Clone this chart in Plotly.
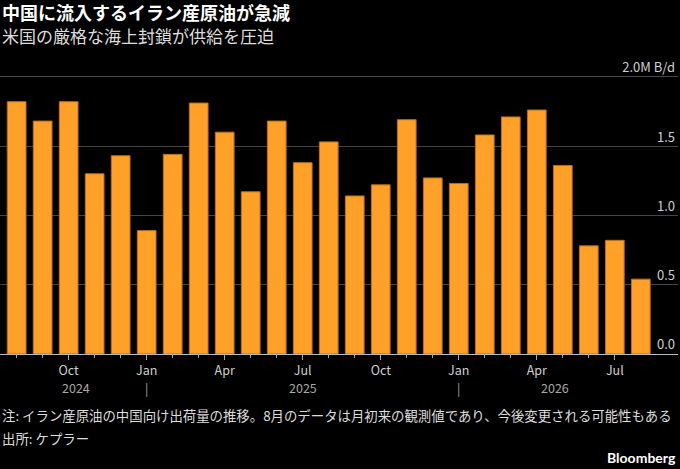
import plotly.graph_objects as go

# monthly shipments of Iranian crude to China (million barrels per day)
months = ["2024-08", "2024-09", "2024-10", "2024-11", "2024-12",
          "2025-01", "2025-02", "2025-03", "2025-04", "2025-05", "2025-06",
          "2025-07", "2025-08", "2025-09", "2025-10", "2025-11", "2025-12",
          "2026-01", "2026-02", "2026-03", "2026-04", "2026-05", "2026-06",
          "2026-07", "2026-08"]
volume = [1.82, 1.68, 1.82, 1.30, 1.43,
          0.89, 1.44, 1.81, 1.60, 1.17, 1.68,
          1.38, 1.53, 1.14, 1.22, 1.69, 1.27,
          1.23, 1.58, 1.71, 1.76, 1.36, 0.78,
          0.82, 0.54]

month_labels = {"2024-10": "Oct", "2025-01": "Jan", "2025-04": "Apr", "2025-07": "Jul",
                "2025-10": "Oct", "2026-01": "Jan", "2026-04": "Apr", "2026-07": "Jul"}
year_labels = ["2024", "|", "2025", "|", "2026"]
year_pos = [2.3, 5.0, 11.0, 17.0, 20.7]

y_ticks = [0, 0.5, 1.0, 1.5, 2.0]
y_ticktext = ["0.0", "0.5", "1.0", "1.5", "2.0M B/d"]

#######################
### Graph Variables ###
#######################

BG = "black"
BAR_COLOUR = "#FFA028"
BAR_EDGE = "#B8711C"
GRID_COLOUR = "#444444"
TICK_COLOUR = "#CFCFCF"
FONT = "Noto Sans CJK JP, Noto Sans, sans-serif"
Y_MAX = 2.2
TOP, BOTTOM = 49, 354   # plot area in pixels (2.0 line lands near y=77)


def py(pix):
    # pixel row -> paper y
    return (BOTTOM - pix) / (BOTTOM - TOP)


fig = go.Figure()

fig.add_trace(go.Bar(x=months, y=volume,
                     marker=dict(color=BAR_COLOUR, line=dict(color=BAR_EDGE, width=1)),
                     hoverinfo="x+y"))

# labelled (quarter) ticks sit on an overlay axis so they can be longer
lab_idx = [months.index(m) for m in month_labels]
x_range = [-0.64, 25.43]

fig.update_layout(
    width=680, height=469,
    paper_bgcolor=BG, plot_bgcolor=BG,
    margin=dict(l=0, r=2, t=TOP, b=469 - BOTTOM, autoexpand=False),
    showlegend=False,
    bargap=0.28,
    font=dict(family=FONT, color=TICK_COLOUR, size=13),
    xaxis=dict(type="category", range=x_range, showgrid=False,
               showline=True, linecolor="#BBBBBB", linewidth=1,
               ticks="outside", ticklen=3, tickcolor="#AAAAAA",
               showticklabels=False, fixedrange=True),
    xaxis2=dict(overlaying="x", anchor="y", side="bottom", range=x_range,
                tickvals=lab_idx, ticktext=list(month_labels.values()),
                ticks="outside", ticklen=5, tickcolor="#AAAAAA",
                showgrid=False, zeroline=False, showline=False,
                tickfont=dict(size=12.5, color=TICK_COLOUR), fixedrange=True),
    yaxis=dict(range=[0, Y_MAX], side="right", tickvals=y_ticks, ticktext=y_ticktext,
               ticklabelposition="inside top", gridcolor=GRID_COLOUR, gridwidth=1,
               zeroline=False, showline=False, ticks="",
               tickfont=dict(size=13, color=TICK_COLOUR), fixedrange=True),
)

# invisible helper so the overlay axis is drawn
fig.add_trace(go.Scatter(x=[x_range[0]], y=[0], xaxis="x2", mode="markers",
                         marker=dict(opacity=0), hoverinfo="skip"))

for txt, pos in zip(year_labels, year_pos):
    fig.add_annotation(text=txt, x=pos, xref="x", y=py(387), yref="paper",
                       yanchor="middle", showarrow=False,
                       font=dict(size=12.5, color="#A8A8A8"))

fig.add_annotation(text="<b>中国に流入するイラン産原油が急減</b>", x=0, y=py(12),
                   xref="paper", yref="paper", xanchor="left", yanchor="middle",
                   showarrow=False, font=dict(size=18, color="white"))
fig.add_annotation(text="米国の厳格な海上封鎖が供給を圧迫", x=0, y=py(35.5),
                   xref="paper", yref="paper", xanchor="left", yanchor="middle",
                   showarrow=False, font=dict(size=17, color="#DDDDDD"))
fig.add_annotation(text="注: イラン産原油の中国向け出荷量の推移。8月のデータは月初来の観測値であり、今後変更される可能性もある",
                   x=0, y=py(415), xref="paper", yref="paper",
                   xanchor="left", yanchor="middle", showarrow=False,
                   font=dict(size=13.4, color="#DDDDDD"))
fig.add_annotation(text="出所: ケプラー", x=0, y=py(438), xref="paper", yref="paper",
                   xanchor="left", yanchor="middle", showarrow=False,
                   font=dict(size=13.4, color="#DDDDDD"))
fig.add_annotation(text="<b>Bloomberg</b>", x=1, y=py(457), xref="paper", yref="paper",
                   xanchor="right", yanchor="middle", showarrow=False,
                   font=dict(size=14, color="white", family="Lato, Noto Sans, sans-serif"))

fig.write_html("out.html", config={"displayModeBar": False},
               post_script="document.body.style.margin='0';")
